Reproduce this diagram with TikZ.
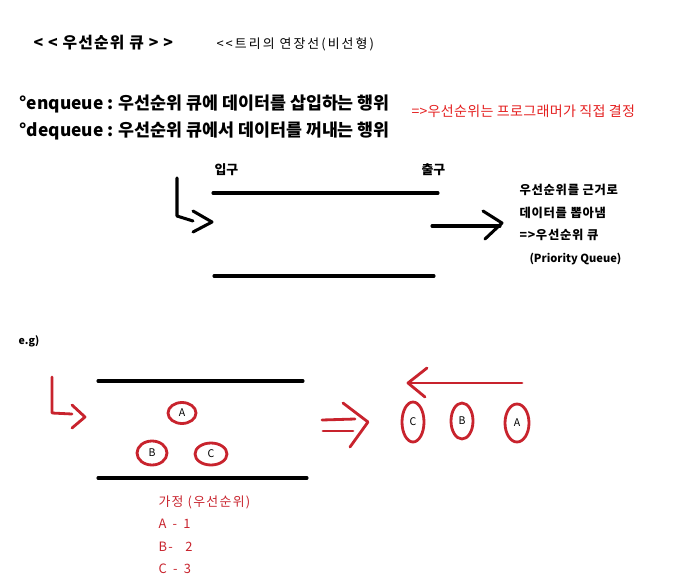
\documentclass[tikz,border=0pt]{standalone}
\usepackage{fontspec}
\setmainfont{Noto Sans CJK KR}
\usetikzlibrary{shapes.geometric}
\definecolor{penred}{RGB}{200,35,45}
\definecolor{notered}{RGB}{228,32,32}

\begin{document}
\begin{tikzpicture}[x=0.03cm,y=-0.03cm,line width=2.6pt,line cap=round,line join=round,
  txt/.style={anchor=west,inner sep=0pt,font=\bfseries\fontsize{10.5}{12}\selectfont\addfontfeatures{LetterSpace=6}},
  redtxt/.style={anchor=west,inner sep=0pt,text=penred,font=\fontsize{11}{13}\selectfont\addfontfeatures{LetterSpace=10}},
  pen/.style={draw=penred,line width=2.4pt},
  bubble/.style={ellipse,draw=penred,line width=2.4pt,inner sep=0pt,font=\fontsize{9}{10}\selectfont}]
  \useasboundingbox (0,0) rectangle (674,583);
  % headings
  \node[txt,font=\bfseries\fontsize{13.5}{15}\selectfont\addfontfeatures{LetterSpace=8}] (title) at (32,43) {< < 우선순위 큐 > >};
  \node[txt,font=\fontsize{11}{13}\selectfont\addfontfeatures{LetterSpace=16}] (sub) at (215,44) {<{}<트리의 연장선(비선형)};
  \node[txt,font=\bfseries\fontsize{14.8}{17}\selectfont] (enq) at (18,104) {°enqueue : 우선순위 큐에 데이터를 삽입하는 행위};
  \node[txt,font=\bfseries\fontsize{14.8}{17}\selectfont] (deq) at (18,131) {°dequeue : 우선순위 큐에서 데이터를 꺼내는 행위};
  \node[txt,text=notered,font=\fontsize{12}{14}\selectfont\addfontfeatures{LetterSpace=2}] (who) at (410,111) {=>우선순위는 프로그래머가 직접 결정};
  % queue
  \node[txt,font=\bfseries\fontsize{11}{13}\selectfont] (in) at (213,170) {입구};
  \node[txt,font=\bfseries\fontsize{11}{13}\selectfont] (out) at (420,170) {출구};
  \draw (213,193) -- (438,193);
  \draw (214,276) -- (434,276);
  \draw (177,178) -- (177,216) -- (193,221);
  \draw (193,211) -- (212,222) -- (193,232);
  \draw (432,226) -- (500,226);
  \draw (483,211) -- (502,223) -- (485,239);
  \node[txt] (r1) at (518,190) {우선순위를 근거로};
  \node[txt] (r2) at (518,213) {데이터를 뽑아냄};
  \node[txt] (r3) at (518,235) {=>우선순위 큐};
  \node[txt,font=\bfseries\fontsize{9.5}{11}\selectfont] (r4) at (528,259) {(Priority Queue)};
  % e.g
  \node[txt,font=\bfseries\fontsize{9}{11}\selectfont] (eg) at (17,341) {e.g)};
  \draw (98,381) -- (303,381);
  \draw (98,478) -- (307,478);
  \draw[pen] (52,377) -- (52,413) -- (72,414);
  \draw[pen] (72,405) -- (85,417) -- (72,428);
  \node[bubble,minimum width=0.84cm,minimum height=0.63cm] (a1) at (182,413) {A};
  \node[bubble,minimum width=0.9cm,minimum height=0.72cm] (b1) at (152,453) {B};
  \node[bubble,minimum width=0.96cm,minimum height=0.66cm] (c1) at (211,454) {C};
  \node[redtxt] (hyp) at (157,502) {가정 (우선순위)};
  \node[redtxt] (p1) at (157,524) {A \,- \,1};
  \node[redtxt] (p2) at (157,547) {B- \ \ 2};
  \node[redtxt] (p3) at (157,569) {C \,- \,3};
  \draw[pen] (322,420) -- (355,419);
  \draw[pen] (323,431) -- (353,431);
  \draw[pen] (343,403) -- (368,422) -- (350,447);
  \draw[pen] (522,383) -- (410,383);
  \draw[pen] (427,368) -- (408,383) -- (425,397);
  \node[bubble,minimum width=0.66cm,minimum height=1.2cm] (c2) at (413,422) {C};
  \node[bubble,minimum width=0.66cm,minimum height=1.08cm] (b2) at (462,421) {B};
  \node[bubble,minimum width=0.72cm,minimum height=1.14cm] (a2) at (517,423) {A};
\end{tikzpicture}
\end{document}
